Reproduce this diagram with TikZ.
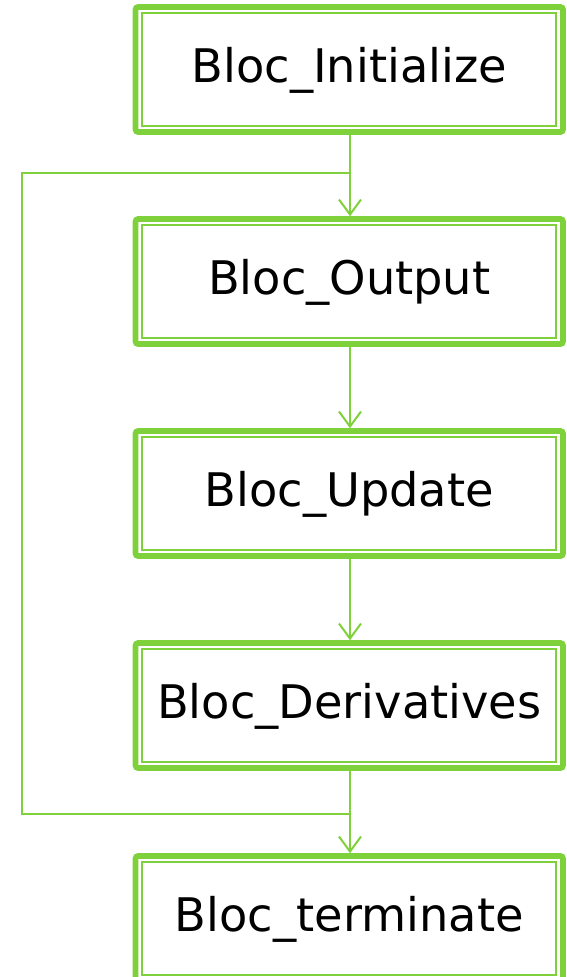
\documentclass[tikz,border=0pt]{standalone}
\usepackage{fontspec}
\setmainfont{DejaVu Sans}
\usetikzlibrary{arrows.meta}
\definecolor{lgreen}{RGB}{127,209,59}
\tikzset{
  blockbox/.style={draw=lgreen, line width=5.6pt, rounded corners=2.5pt, fill=white,
    minimum width=427.5pt, minimum height=125pt, inner sep=0pt},
  blocktext/.style={anchor=base, inner sep=0pt, font=\fontsize{46.3}{55}\selectfont},
  innerline/.style={draw=lgreen, line width=2pt},
  conn/.style={draw=lgreen, line width=2pt},
  arr/.style={conn, -{Straight Barb[length=15pt, width=22pt, line width=2pt]}}
}
\begin{document}
\begin{tikzpicture}[x=1pt, y=-1pt]
\useasboundingbox (0,0) rectangle (567,977);
\clip (0,0) rectangle (567,977);
\foreach \n/\y/\t in {b1/69.5/Bloc\_Initialize, b2/281.5/Bloc\_Output, b3/493.5/Bloc\_Update, b4/705.5/Bloc\_Derivatives, b5/918.5/Bloc\_terminate}{
  \node[blockbox] (\n) at (349.25,\y) {};
  \draw[innerline] ([shift={(9.5pt,-9pt)}]\n.north west) rectangle ([shift={(-9.5pt,9pt)}]\n.south east);
  \node[blocktext] (\n t) at (349.25,\y+13) {\t};
}
\coordinate (top) at (350,173);
\coordinate (bot) at (350,814);
\coordinate (tl) at (21.5,173);
\coordinate (bl) at (21.5,814);
\draw[arr] (b1.south -| top) -- (b2.north -| top);
\draw[arr] (b2.south -| top) -- (b3.north -| top);
\draw[arr] (b3.south -| top) -- (b4.north -| top);
\draw[arr] (b4.south -| top) -- (b5.north -| top);
\draw[conn] (bot) -- (bl) -- (tl) -- (top);
\end{tikzpicture}
\end{document}
